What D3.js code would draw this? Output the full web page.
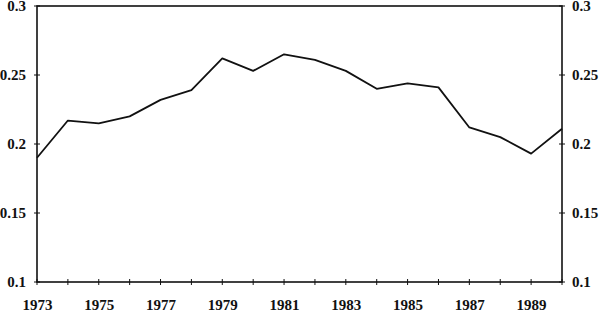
<!DOCTYPE html>
<html>
<head>
<meta charset="utf-8">
<script src="https://cdn.jsdelivr.net/npm/d3@7"></script>
<style>
    body { margin: 0; background: #fff; }
    svg text { font-family: "Liberation Serif", "Times New Roman", serif; font-weight: bold; font-size: 15px; fill: #111; }
</style>
</head>
<body>
<svg id="chart" width="600" height="312"></svg>
<script>
// values
var years = [1973, 1974, 1975, 1976, 1977, 1978, 1979, 1980, 1981,
             1982, 1983, 1984, 1985, 1986, 1987, 1988, 1989, 1990];
var values = [0.190, 0.217, 0.215, 0.220, 0.232, 0.239, 0.262, 0.253, 0.265,
              0.261, 0.253, 0.240, 0.244, 0.241, 0.212, 0.205, 0.193, 0.211];
var yTicks = [0.1, 0.15, 0.2, 0.25, 0.3];
var yLabels = ['0.1', '0.15', '0.2', '0.25', '0.3'];
var xLabelYears = [1973, 1975, 1977, 1979, 1981, 1983, 1985, 1987, 1989];

// plot box (note: "top" is taken by window.top)
var boxL = 37, boxR = 562, boxT = 6, boxB = 282;

var svg = d3.select('#chart');

var x = d3.scaleLinear().domain([1973, 1990]).range([boxL, boxR]);
var y = d3.scaleLinear().domain([0.1, 0.3]).range([boxB, boxT]);

// frame
svg.append('rect')
    .attr('x', boxL)
    .attr('y', boxT)
    .attr('width', boxR - boxL)
    .attr('height', boxB - boxT)
    .attr('fill', 'none')
    .attr('stroke', '#111')
    .attr('stroke-width', 1.6);

// tick marks crossing the axes
svg.selectAll('.xt').data(years).enter().append('line')
    .attr('x1', d => x(d)).attr('x2', d => x(d))
    .attr('y1', boxB - 3).attr('y2', boxB + 3)
    .attr('stroke', '#111').attr('stroke-width', 1);

[boxL, boxR].forEach(function (xx) {
    svg.selectAll(null).data(yTicks).enter().append('line')
        .attr('x1', xx - 3).attr('x2', xx + 3)
        .attr('y1', d => y(d)).attr('y2', d => y(d))
        .attr('stroke', '#111').attr('stroke-width', 1);
});

// labels via axes
var xAxis = d3.axisBottom(x)
    .tickValues(xLabelYears)
    .tickFormat(d3.format('d'))
    .tickSize(0)
    .tickPadding(17);
var gx = svg.append('g').attr('transform', 'translate(0,' + boxB + ')').call(xAxis);

var fmt = function (d, i) { return yLabels[i]; };
var gl = svg.append('g').attr('transform', 'translate(' + boxL + ',0)')
    .call(d3.axisLeft(y).tickValues(yTicks).tickFormat(fmt).tickSize(0).tickPadding(11));
var gr = svg.append('g').attr('transform', 'translate(' + boxR + ',0)')
    .call(d3.axisRight(y).tickValues(yTicks).tickFormat(fmt).tickSize(0).tickPadding(10));

[gx, gl, gr].forEach(function (g) {
    g.select('.domain').remove();
    g.selectAll('text').attr('font-size', null).attr('font-family', null).attr('fill', null);
    g.attr('font-size', null).attr('font-family', null);
});

// the series
var line = d3.line()
    .x((d, i) => x(years[i]))
    .y(d => y(d));

svg.append('path')
    .datum(values)
    .attr('d', line)
    .attr('fill', 'none')
    .attr('stroke', '#111')
    .attr('stroke-width', 1.8)
    .attr('stroke-linejoin', 'round');
</script>
</body>
</html>
